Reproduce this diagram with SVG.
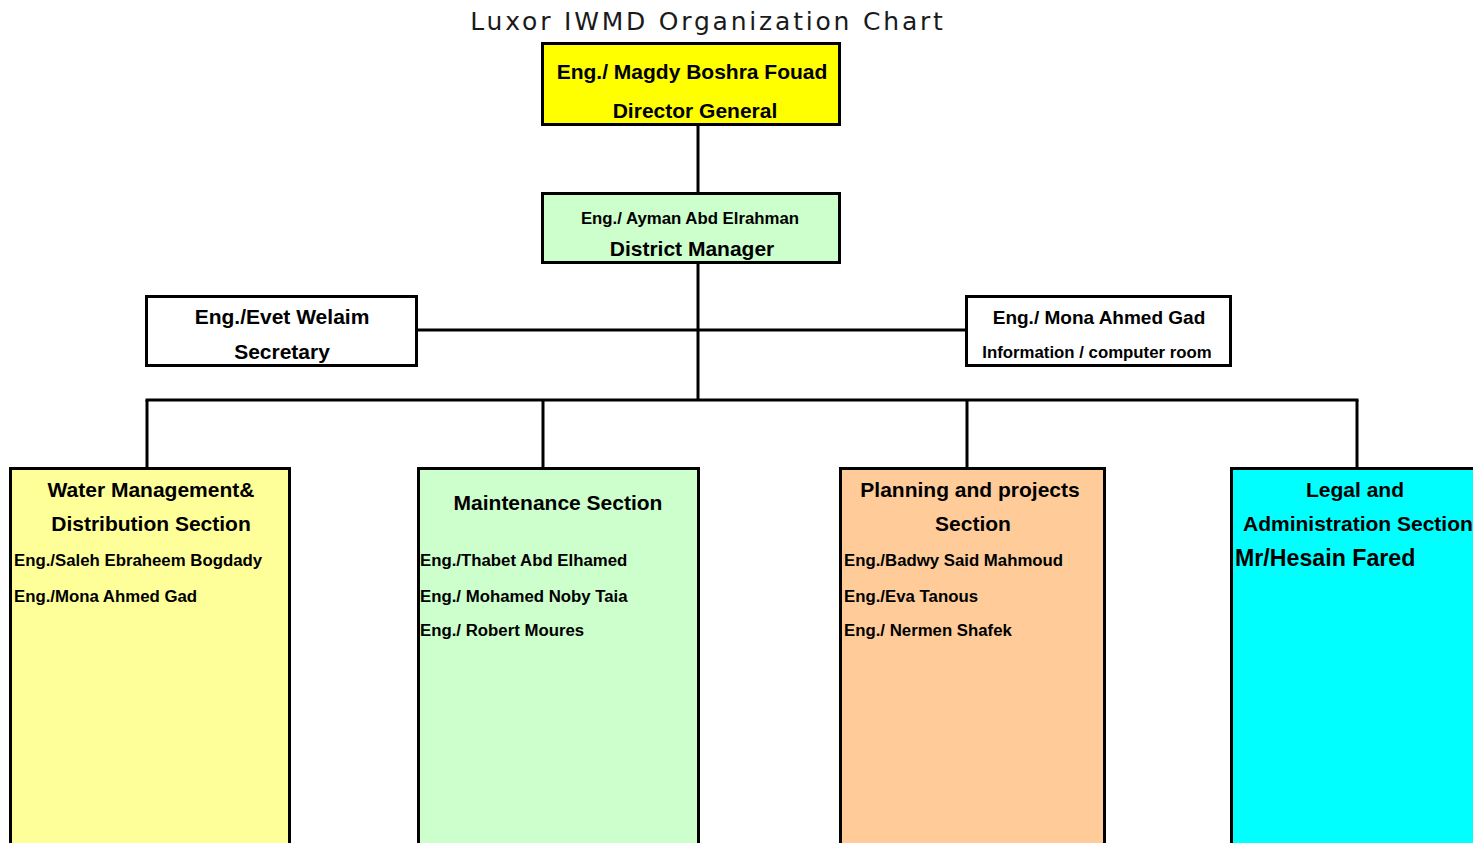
<svg xmlns="http://www.w3.org/2000/svg" width="1473" height="843" viewBox="0 0 1473 843">
<style>
.box{stroke:#000;stroke-width:3}
.t{font-family:"Liberation Sans",Arial,sans-serif;font-weight:bold;fill:#000}
.c{text-anchor:middle}
.ln{stroke:#000;stroke-width:3;fill:none}
.n{font-size:16.8px}
.h{font-size:21px}
</style>
<rect width="1473" height="843" fill="#fff"/>
<text x="708" y="30" font-family="'DejaVu Sans',sans-serif" font-size="25" letter-spacing="2.8" text-anchor="middle" fill="#1a1a1a">Luxor IWMD Organization Chart</text>
<g id="connectors">
<line class="ln" x1="698" y1="125" x2="698" y2="193"/>
<line class="ln" x1="698" y1="263" x2="698" y2="400"/>
<line class="ln" x1="417" y1="330" x2="966" y2="330"/>
<line class="ln" x1="145.5" y1="400" x2="1358.5" y2="400"/>
<line class="ln" x1="147" y1="400" x2="147" y2="468"/>
<line class="ln" x1="543" y1="400" x2="543" y2="468"/>
<line class="ln" x1="967" y1="400" x2="967" y2="468"/>
<line class="ln" x1="1357" y1="400" x2="1357" y2="468"/>
</g>
<g id="director">
<rect class="box" x="542.5" y="43.5" width="297" height="81" fill="#FFFF00"/>
<text class="t c h" x="692" y="79">Eng./ Magdy Boshra Fouad</text>
<text class="t c h" x="695" y="118">Director General</text>
</g>
<g id="district">
<rect class="box" x="542.5" y="193.5" width="297" height="69" fill="#CCFFCC"/>
<text class="t c n" x="690" y="224">Eng./ Ayman Abd Elrahman</text>
<text class="t c h" x="692" y="256">District Manager</text>
</g>
<g id="secretary">
<rect class="box" x="146.5" y="296.5" width="270" height="69" fill="#FFFFFF"/>
<text class="t c h" x="282" y="324">Eng./Evet Welaim</text>
<text class="t c h" x="282" y="359">Secretary</text>
</g>
<g id="info">
<rect class="box" x="966.5" y="296.5" width="264" height="69" fill="#FFFFFF"/>
<text class="t c" x="1099" y="324" font-size="19">Eng./ Mona Ahmed Gad</text>
<text class="t c n" x="1097" y="358">Information / computer room</text>
</g>
<g id="water">
<rect class="box" x="10.5" y="468.5" width="279" height="380" fill="#FFFF99"/>
<text class="t c h" x="151" y="497">Water Management&amp;</text>
<text class="t c h" x="151" y="531">Distribution Section</text>
<text class="t n" x="14" y="566">Eng./Saleh Ebraheem Bogdady</text>
<text class="t n" x="14" y="602">Eng./Mona Ahmed Gad</text>
</g>
<g id="maintenance">
<rect class="box" x="418.5" y="468.5" width="280" height="380" fill="#CCFFCC"/>
<text class="t c h" x="558" y="510">Maintenance Section</text>
<text class="t n" x="420" y="566">Eng./Thabet Abd Elhamed</text>
<text class="t n" x="420" y="602">Eng./ Mohamed Noby Taia</text>
<text class="t n" x="420" y="636">Eng./ Robert Moures</text>
</g>
<g id="planning">
<rect class="box" x="840.5" y="468.5" width="264" height="380" fill="#FFCC99"/>
<text class="t c h" x="970" y="497">Planning and projects</text>
<text class="t c h" x="973" y="531">Section</text>
<text class="t n" x="844" y="566">Eng./Badwy Said Mahmoud</text>
<text class="t n" x="844" y="602">Eng./Eva Tanous</text>
<text class="t n" x="844" y="636">Eng./ Nermen Shafek</text>
</g>
<g id="legal">
<rect class="box" x="1231.5" y="468.5" width="260" height="380" fill="#00FFFF"/>
<text class="t c h" x="1355" y="497">Legal and</text>
<text class="t h" x="1243" y="531">Administration Section</text>
<text class="t" x="1235" y="566" font-size="23.2">Mr/Hesain Fared</text>
</g>
</svg>
